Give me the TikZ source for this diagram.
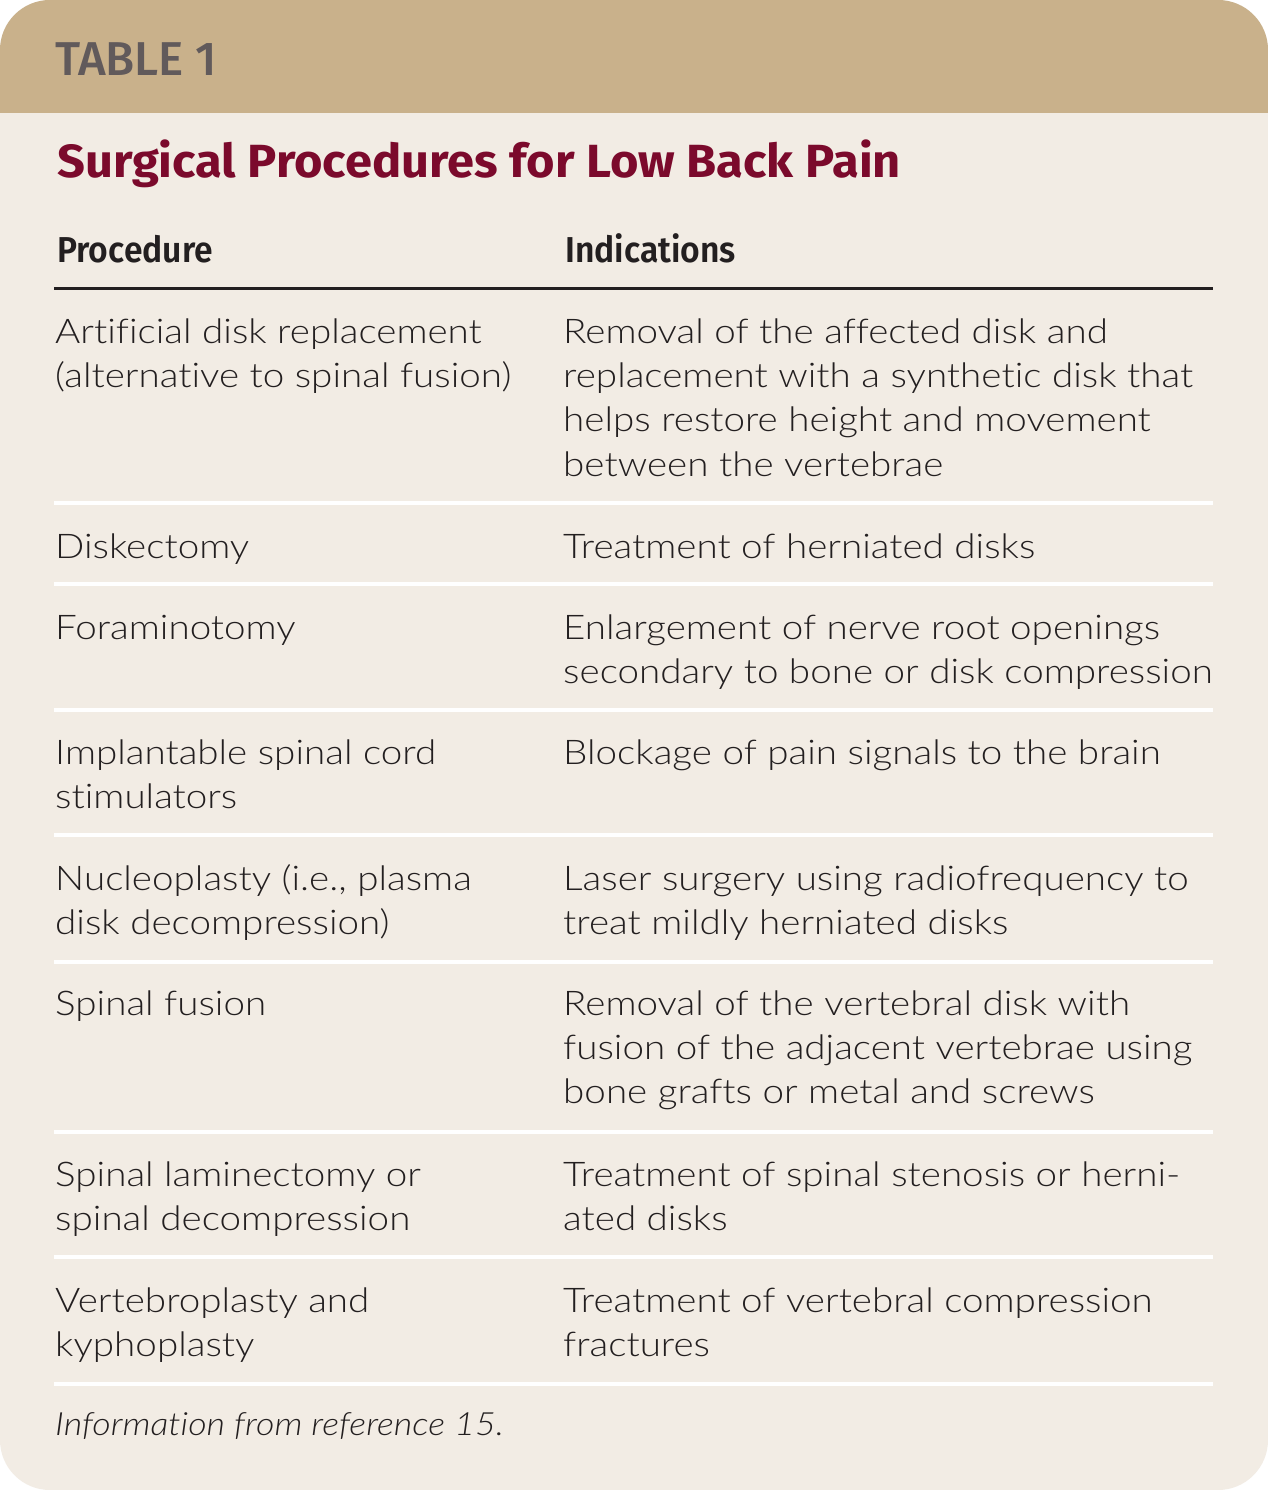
\documentclass[tikz,border=0pt]{standalone}
\usepackage{fontspec}
\newfontfamily\bodyf{Lato Light}[FakeStretch=1.135, Ligatures={NoCommon,NoRequired,NoContextual}, Contextuals=NoAlternate]
\newfontfamily\footf{Lato Light Italic}[FakeStretch=1.12, Ligatures={NoCommon,NoRequired,NoContextual}, Contextuals=NoAlternate]
\newfontfamily\titlef{Fira Sans Bold}[FakeStretch=1.05]
\newfontfamily\tabf{Fira Sans Medium}
\newfontfamily\hdf{Fira Sans SemiBold}[FakeStretch=0.935]
\definecolor{bandtan}{HTML}{C9B18B}
\definecolor{cream}{HTML}{F2ECE4}
\definecolor{crimson}{HTML}{7B0A2C}
\definecolor{tabgray}{HTML}{615A5B}
\definecolor{ink}{HTML}{231F20}
\newcommand\tcell[1]{\begin{tabular}[t]{@{}l@{}}#1\end{tabular}}
\newcommand\brk{\kern0pt }
\begin{document}
\begin{tikzpicture}[x=1pt,y=-1pt,
  body/.style={anchor=base west, inner sep=0pt, text=ink,
    font=\bodyf\fontsize{34}{44.4}\selectfont},
  colhead/.style={anchor=base west, inner sep=0pt, text=ink,
    font=\hdf\fontsize{36}{40}\selectfont},
  seprule/.style={draw=white, line width=4pt},
  headrule/.style={draw=ink, line width=3pt}]
\fill[white] (0,0) rectangle (1268,1490);
\useasboundingbox (0,0) rectangle (1268,1490);
\begin{scope}
  \clip[rounded corners=50pt] (0,0) rectangle (1268,1490);
  \fill[cream] (0,0) rectangle (1268,1490);
  \fill[bandtan] (0,0) rectangle (1268,113);
\end{scope}
\node[anchor=base west, inner sep=0pt, text=tabgray, font=\tabf\fontsize{47.5}{50}\selectfont] (tab) at (55,76) {TABLE 1};
\node[anchor=base west, inner sep=0pt, text=crimson, font=\titlef\fontsize{46.5}{50}\selectfont] (title) at (57,178) {Surgical Procedures for Low Back Pain};
\node[colhead] (hproc) at (57,262) {Procedure};
\node[colhead] (hind) at (565,262) {Indications};
\draw[headrule] (54,288) -- (1213,288);
% rows
\node[body] (p1) at (55,343) {\tcell{Art\brk ificial disk replacement\\(alternat\brk ive to spinal fusion)}};
\node[body] (i1) at (563,343) {\tcell{Removal of the affected disk and\\replacement with a synthet\brk ic disk that\\helps restore height and movement\\between the vertebrae}};
\draw[seprule] (54,503) -- (1213,503);
\node[body] (p2) at (55,558) {Diskectomy};
\node[body] (i2) at (563,558) {Treatment of herniated disks};
\draw[seprule] (54,584) -- (1213,584);
\node[body] (p3) at (55,639) {Foraminotomy};
\node[body] (i3) at (563,639) {\tcell{Enlargement of nerve root openings\\secondary to bone or disk compression}};
\draw[seprule] (54,710) -- (1213,710);
\node[body] (p4) at (55,764) {\tcell{Implantable spinal cord\\st\brk imulators}};
\node[body] (i4) at (563,764) {Blockage of pain signals to the brain};
\draw[seprule] (54,835) -- (1213,835);
\node[body] (p5) at (55,890) {\tcell{Nucleoplasty (i.e., plasma\\disk decompression)}};
\node[body] (i5) at (563,890) {\tcell{Laser surgery using radiofrequency to\\treat mildly herniated disks}};
\draw[seprule] (54,962) -- (1213,962);
\node[body] (p6) at (55,1015) {Spinal fusion};
\node[body] (i6) at (563,1015) {\tcell{Removal of the vertebral disk with\\fusion of the adjacent vertebrae using\\bone graf\brk ts or metal and screws}};
\draw[seprule] (54,1132) -- (1213,1132);
\node[body] (p7) at (55,1186) {\tcell{Spinal laminectomy or\\spinal decompression}};
\node[body] (i7) at (563,1186) {\tcell{Treatment of spinal stenosis or herni-\\ated disks}};
\draw[seprule] (54,1257) -- (1213,1257);
\node[body] (p8) at (55,1312) {\tcell{Vertebroplasty and\\kyphoplasty}};
\node[body] (i8) at (563,1312) {\tcell{Treatment of vertebral compression\\fractures}};
\draw[seprule] (54,1384) -- (1213,1384);
\node[anchor=base west, inner sep=0pt, text=ink, font=\footf\fontsize{32}{36}\selectfont] (foot) at (55,1435) {Informat\brk ion from reference 15.};
\end{tikzpicture}
\end{document}
